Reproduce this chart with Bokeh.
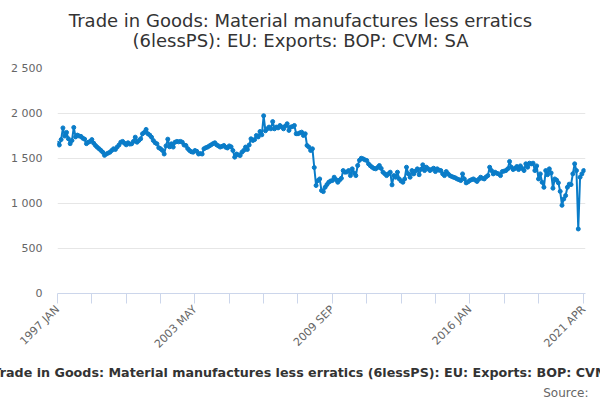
from math import pi

from bokeh.plotting import figure
from bokeh.layouts import column
from bokeh.models import FixedTicker, Range1d, Title
from bokeh.core.properties import value
from bokeh.embed import file_html
from bokeh.resources import INLINE


#chart data (monthly, 1997 JAN - 2021 APR, £ million)
first_year = 1997
month_names = ["JAN", "FEB", "MAR", "APR", "MAY", "JUN", "JUL", "AUG", "SEP", "OCT", "NOV", "DEC"]
values = [
    1670, 1650, 1710, 1840, 1750, 1790, 1720, 1665, 1700, 1845, 1740, 1760,  # 1997
    1750, 1745, 1725, 1715, 1665, 1680, 1690, 1710, 1670, 1645, 1625, 1608,  # 1998
    1590, 1570, 1535, 1550, 1560, 1570, 1590, 1608, 1600, 1627, 1650, 1681,  # 1999
    1690, 1670, 1652, 1675, 1660, 1663, 1690, 1737, 1681, 1700, 1719, 1775,  # 2000
    1790, 1823, 1775, 1760, 1737, 1700, 1675, 1663, 1620, 1608, 1590, 1550,  # 2001
    1640, 1715, 1630, 1663, 1627, 1681, 1690, 1685, 1690, 1681, 1650, 1645,  # 2002
    1610, 1589, 1575, 1570, 1589, 1580, 1550, 1555, 1550, 1608, 1620, 1627,  # 2003
    1640, 1652, 1665, 1675, 1652, 1640, 1627, 1635, 1645, 1625, 1617, 1640,  # 2004
    1630, 1589, 1515, 1550, 1540, 1533, 1570, 1590, 1627, 1600, 1650, 1719,  # 2005
    1700, 1710, 1756, 1740, 1800, 1763, 1975, 1808, 1830, 1849, 1830, 1910,  # 2006
    1830, 1849, 1840, 1867, 1850, 1830, 1860, 1886, 1812, 1849, 1855, 1867,  # 2007
    1775, 1775, 1785, 1793, 1756, 1775, 1645, 1627, 1589, 1608, 1400, 1200,  # 2008
    1255, 1273, 1144, 1132, 1180, 1210, 1236, 1250, 1255, 1292, 1266, 1236,  # 2009
    1260, 1280, 1366, 1348, 1350, 1366, 1310, 1385, 1340, 1310, 1422, 1480,  # 2010
    1503, 1496, 1485, 1478, 1441, 1420, 1403, 1390, 1385, 1400, 1422, 1390,  # 2011
    1348, 1330, 1310, 1330, 1348, 1207, 1310, 1292, 1348, 1273, 1250, 1236,  # 2012
    1273, 1403, 1330, 1292, 1366, 1329, 1360, 1385, 1320, 1380, 1430, 1366,  # 2013
    1403, 1385, 1366, 1380, 1392, 1355, 1385, 1370, 1366, 1330, 1310, 1355,  # 2014
    1330, 1310, 1300, 1292, 1285, 1273, 1265, 1255, 1329, 1273, 1229, 1240,  # 2015
    1255, 1265, 1273, 1260, 1245, 1270, 1292, 1280, 1273, 1295, 1310, 1403,  # 2016
    1366, 1329, 1348, 1335, 1329, 1310, 1355, 1360, 1366, 1385, 1467, 1403,  # 2017
    1377, 1390, 1411, 1377, 1418, 1390, 1366, 1441, 1403, 1448, 1440, 1448,  # 2018
    1366, 1418, 1273, 1329, 1236, 1180, 1366, 1320, 1385, 1340, 1170, 1273,  # 2019
    1260, 1230, 1135, 980, 1051, 1088, 1180, 1215, 1210, 1330, 1441, 1366,   # 2020
    717, 1292, 1329, 1366,                                                   # 2021
]
x_labels = ["1997 JAN", "2003 MAY", "2009 SEP", "2016 JAN", "2021 APR"]
x_tick_step = 19
y_ticks = [0, 500, 1000, 1500, 2000, 2500]
y_labels = ["0", "500", "1 000", "1 500", "2 000", "2 500"]

title_lines = ["Trade in Goods: Material manufactures less erratics",
               "(6lessPS): EU: Exports: BOP: CVM: SA"]
caption = "Trade in Goods: Material manufactures less erratics (6lessPS): EU: Exports: BOP: CVM: SA"
source = "Source:"


def month_index(label):
    year, mon = label.split(" ")
    return (int(year) - first_year) * 12 + month_names.index(mon)


months = list(range(len(values)))
label_pos = {month_index(lab): lab for lab in x_labels}
x_ticks = list(range(0, months[-1] - 10, x_tick_step)) + [months[-1]]

font = "DejaVu Sans"
line_color = "#0a7cc8"
W = 600
left, right = 57, 15

#title strip, data units are page pixels (y pointing down)
head = figure(width=W, height=60, output_backend="svg", toolbar_location=None,
              x_range=Range1d(left, W - right), y_range=Range1d(60, 0),
              x_axis_location=None, y_axis_location=None,
              min_border_left=left, min_border_right=right, min_border_top=0, min_border_bottom=0)
head.outline_line_color = None
head.grid.grid_line_color = None
head.text(x=[300, 300], y=[20, 40], text=title_lines, text_align="center", text_baseline="middle",
          text_font=value(font), text_font_size="18px", text_color="#333333")

#main chart
p = figure(width=W, height=339, output_backend="svg", toolbar_location=None,
           x_range=Range1d(0, 292), y_range=Range1d(0, 2500),
           min_border_left=left, min_border_right=right, min_border_top=8, min_border_bottom=0)
p.outline_line_color = None

#caption (wider than the page, as in the original) and source under the axis
p.add_layout(Title(text=caption, align="left", offset=-65, text_font=font, text_font_size="12.7px",
                   text_font_style="bold", text_color="#333333", standoff=8), "below")
p.add_layout(Title(text=source, align="right", offset=-3, text_font=font, text_font_size="12px",
                   text_font_style="normal", text_color="#666666", standoff=0), "below")

p.xaxis.ticker = FixedTicker(ticks=x_ticks, minor_ticks=[])
p.xaxis.major_label_overrides = {t: label_pos.get(t, "") for t in x_ticks}
p.xaxis.major_label_orientation = pi / 4
p.xaxis.axis_line_color = "#ccd6eb"
p.xaxis.major_tick_line_color = "#ccd6eb"
p.xaxis.major_tick_out = 10
p.xaxis.major_tick_in = 0
p.xaxis.major_label_standoff = 4
p.xaxis.major_label_text_font = font
p.xaxis.major_label_text_font_size = "11px"
p.xaxis.major_label_text_color = "#666666"
p.xgrid.grid_line_color = None

p.yaxis.ticker = FixedTicker(ticks=y_ticks, minor_ticks=[])
p.yaxis.major_label_overrides = dict(zip(y_ticks, y_labels))
p.yaxis.axis_line_color = None
p.yaxis.major_tick_line_color = None
p.yaxis.major_tick_out = 0
p.yaxis.major_tick_in = 0
p.yaxis.major_label_standoff = 15
p.yaxis.major_label_text_font = font
p.yaxis.major_label_text_font_size = "11px"
p.yaxis.major_label_text_color = "#666666"
p.ygrid.grid_line_color = "#e6e6e6"

p.line(months, values, line_width=2, color=line_color)
p.scatter(months, values, size=4, color=line_color)

page = column(head, p, spacing=0)
open("out.html", "w").write(file_html(page, INLINE))
